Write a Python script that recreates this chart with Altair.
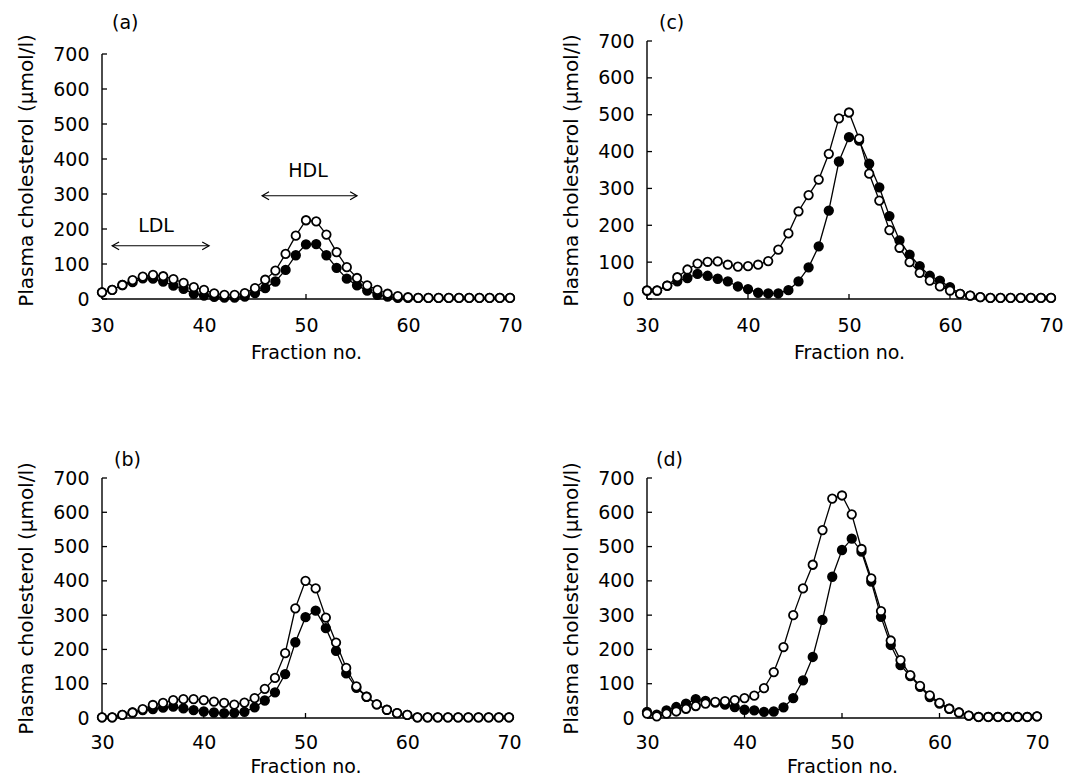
import altair as alt
import pandas as pd

fractions = list(range(30, 71))

a_open = [19, 26, 40, 54, 64, 69, 65, 57, 46, 34, 26,
          16, 12, 12, 17, 31, 55, 81, 129, 181, 225,
          222, 184, 134, 91, 60, 39, 26, 15, 8, 5,
          3, 3, 3, 3, 3, 3, 3, 3, 3, 3]
a_filled = [19, 26, 40, 48, 59, 58, 50, 38, 29, 15, 10,
            6, 4, 4, 7, 17, 31, 50, 83, 125, 156,
            157, 125, 89, 58, 39, 24, 12, 7, 3, 3,
            3, 3, 3, 3, 3, 3, 3, 3, 3, 3]

c_open = [23, 23, 36, 59, 80, 96, 101, 102, 93, 88, 89,
          93, 103, 134, 178, 238, 282, 324, 394, 490, 506,
          435, 340, 267, 187, 139, 100, 71, 50, 34, 23,
          14, 9, 5, 3, 3, 3, 3, 3, 3, 3]
c_filled = [23, 23, 36, 48, 57, 68, 63, 55, 48, 34, 27,
            17, 15, 15, 24, 48, 86, 143, 240, 373, 439,
            430, 367, 303, 225, 159, 120, 89, 63, 50, 32,
            14, 9, 5, 3, 3, 3, 3, 3, 3, 3]

b_open = [2, 2, 9, 16, 26, 38, 44, 52, 55, 55, 52,
          48, 44, 39, 45, 58, 85, 117, 189, 320, 400,
          378, 293, 220, 146, 92, 62, 40, 24, 14, 9,
          2, 2, 2, 2, 2, 2, 2, 2, 2, 2]
b_filled = [2, 2, 9, 16, 23, 26, 30, 33, 28, 23, 19,
            16, 14, 15, 18, 31, 51, 75, 128, 221, 294,
            313, 262, 196, 130, 88, 62, 40, 24, 14, 9,
            2, 2, 2, 2, 2, 2, 2, 2, 2, 2]

d_open = [13, 5, 13, 19, 27, 35, 42, 47, 49, 52, 58,
          65, 87, 134, 207, 300, 378, 447, 548, 640, 649,
          594, 493, 407, 312, 226, 169, 125, 94, 66, 44,
          27, 16, 7, 3, 3, 3, 3, 3, 3, 5]
d_filled = [18, 10, 22, 32, 42, 55, 50, 45, 39, 32, 24,
            22, 18, 19, 31, 58, 110, 178, 286, 412, 490,
            523, 485, 398, 295, 213, 154, 122, 91, 61, 42,
            27, 16, 7, 3, 3, 3, 3, 3, 3, 5]

y_ticks = [0, 100, 200, 300, 400, 500, 600, 700]
x_ticks = [30, 40, 50, 60, 70]

# LDL / HDL annotation (panel a)
arrow_names = ["LDL", "HDL"]
arrow_x1 = [31.0, 45.7]
arrow_x2 = [40.5, 55.0]
arrow_y = [152, 295]
label_x = [35.3, 50.2]
label_y = [208, 367]

FONT = "DejaVu Sans"
FS = 19


def panel(name, open_vals, filled_vals, width, height, axis_h, t_offset, t_dx,
          x_lab_pad=17, x_title_pad=8, annotate=False):
    # axis_h: pixel height of the 0..700 axis; height: full plot height (extra space on top)
    y_top = y_ticks[-1] * height / axis_h
    xs = alt.Scale(domain=[30, 70], nice=False, zero=False)
    ys = alt.Scale(domain=[0, y_top], nice=False, zero=True)
    x_axis = alt.Axis(
        values=x_ticks, title="Fraction no.", ticks=False, grid=False, domain=False,
        labelPadding=x_lab_pad, titlePadding=x_title_pad, labelFlush=False,
        labelOverlap=False, tickCount=len(x_ticks))
    y_axis = alt.Axis(
        values=y_ticks, title="Plasma cholesterol (µmol/l)", ticks=False, grid=False,
        domain=False, labelPadding=13, titlePadding=16, titleFontSize=20,
        labelOverlap=False, tickCount=len(y_ticks))

    def X(field="x"):
        return alt.X(f"{field}:Q", scale=xs, axis=x_axis)

    def Y(field="y"):
        return alt.Y(f"{field}:Q", scale=ys, axis=y_axis)

    df_f = pd.DataFrame({"x": fractions, "y": filled_vals})
    df_o = pd.DataFrame({"x": fractions, "y": open_vals})

    # axis lines
    ax_df = pd.DataFrame({"x": [x_ticks[0]], "x2": [x_ticks[-1]],
                          "y": [y_ticks[0]], "y2": [y_ticks[-1]]})
    y_line = alt.Chart(ax_df).mark_rule(color="black", strokeWidth=1.4).encode(
        x=alt.value(0), y=Y(), y2="y2:Q")
    x_line = alt.Chart(ax_df).mark_rule(color="black", strokeWidth=1.4).encode(
        x=X(), x2="x2:Q", y=alt.value(height))

    line_f = alt.Chart(df_f).mark_line(color="black", strokeWidth=1.3).encode(x=X(), y=Y())
    pts_f = alt.Chart(df_f).mark_point(shape="circle", filled=True, color="black",
                                       stroke="black", strokeWidth=1.6, size=76,
                                       opacity=1).encode(x=X(), y=Y())
    line_o = alt.Chart(df_o).mark_line(color="black", strokeWidth=1.3).encode(x=X(), y=Y())
    pts_o = alt.Chart(df_o).mark_point(shape="circle", filled=True, fill="white",
                                       stroke="black", strokeWidth=1.8, size=72,
                                       opacity=1).encode(x=X(), y=Y())

    yt = alt.Chart(pd.DataFrame({"y": y_ticks})).mark_rule(color="black", strokeWidth=1.3).encode(
        y=Y(), x=alt.value(0), x2=alt.value(5))
    xt = alt.Chart(pd.DataFrame({"x": x_ticks})).mark_rule(color="black", strokeWidth=1.3).encode(
        x=X(), y=alt.value(height), y2=alt.value(height - 5))

    layers = [line_f, y_line, x_line, yt, xt, pts_f, line_o, pts_o]

    if annotate:
        adf = pd.DataFrame({"name": arrow_names, "x": arrow_x1, "x2": arrow_x2,
                            "y": arrow_y, "lx": label_x, "ly": label_y})
        shaft = alt.Chart(adf).mark_rule(color="black", strokeWidth=1.1).encode(
            x=X(), x2="x2:Q", y=Y())
        head_l = alt.Chart(adf).mark_point(
            shape="M2.3,-1.3L0,0L2.3,1.3", filled=False, stroke="black",
            strokeWidth=1.2, size=36, opacity=1).encode(x=X(), y=Y())
        head_r = alt.Chart(adf).mark_point(
            shape="M-2.3,-1.3L0,0L-2.3,1.3", filled=False, stroke="black",
            strokeWidth=1.2, size=36, opacity=1).encode(x=X("x2"), y=Y())
        txt = alt.Chart(adf).mark_text(font=FONT, fontSize=FS, color="black").encode(
            x=X("lx"), y=Y("ly"), text="name:N")
        layers += [shaft, head_l, head_r, txt]

    return alt.layer(*layers).properties(
        width=width, height=height,
        title=alt.TitleParams(text=name, anchor="start", frame="group", dx=t_dx,
                              offset=t_offset, font=FONT, fontSize=FS,
                              fontWeight="normal", color="black"))


pa = panel("(a)", a_open, a_filled, 408, 258, 245, 1, 10, annotate=True)
pb = panel("(b)", b_open, b_filled, 407, 240, 240, -8, 12, x_lab_pad=15, x_title_pad=5)
pc = panel("(c)", c_open, c_filled, 404, 258, 258, -1, 12)
pd_ = panel("(d)", d_open, d_filled, 390, 240, 240, -8, 9, x_lab_pad=15, x_title_pad=5)

left = alt.vconcat(pa, pb, spacing=88)
right = alt.vconcat(pc, pd_, spacing=88)

chart = alt.hconcat(left, right, spacing=38).properties(
    padding={"left": 8, "top": 5, "right": 5, "bottom": 0}
).configure(background="white").configure_view(stroke=None).configure_axis(
    labelFont=FONT, labelFontSize=FS, labelColor="black",
    titleFont=FONT, titleFontSize=FS, titleColor="black", titleFontWeight="normal"
)

chart.save("out.html", embed_options={"renderer": "svg", "actions": False})
